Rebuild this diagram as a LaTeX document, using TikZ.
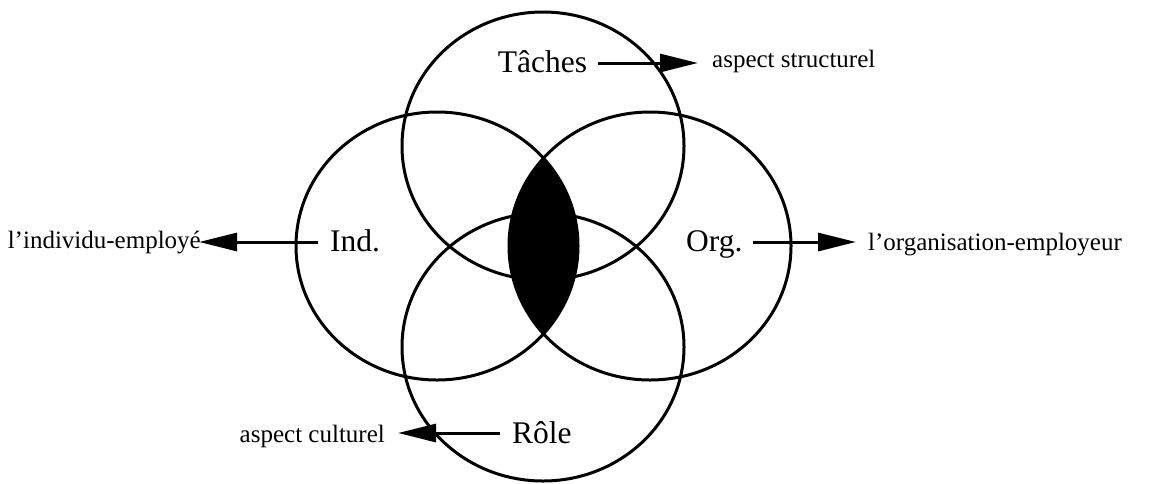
\documentclass[tikz,border=0pt]{standalone}
\usepackage{fontspec}
\setmainfont{Liberation Serif}
\usetikzlibrary{arrows.meta}
\begin{document}
\begin{tikzpicture}[x=1pt,y=-1pt,
  ring/.style={line width=3pt},
  big/.style={inner sep=0pt, font=\fontsize{31.5}{36}\selectfont},
  small/.style={inner sep=0pt, font=\fontsize{25}{30}\selectfont},
  arr/.style={line width=3pt, -{Triangle[length=38pt,width=18pt]}}]
\useasboundingbox (0,0) rectangle (1156,483);
% shaded lens (Ind. and Org. overlap)
\begin{scope}
  \clip (437,246) ellipse [x radius=141, y radius=134];
  \fill (650,246) ellipse [x radius=141, y radius=134];
\end{scope}
% circles
\draw[ring] (543,146) ellipse [x radius=141, y radius=134];
\draw[ring] (437,246) ellipse [x radius=141, y radius=134];
\draw[ring] (650,246) ellipse [x radius=141, y radius=134];
\draw[ring] (543,347) ellipse [x radius=141, y radius=134];
% labels
\node[big, anchor=base] (tach) at (542.5,72) {Tâches};
\node[small, anchor=base west] (asp1) at (712,67) {aspect structurel};
\node[big, anchor=base west] (ind) at (330,251) {Ind.};
\node[small, anchor=base east] (indiv) at (201,248) {l'individu-employé};
\node[big, anchor=base west] (org) at (686,251) {Org.};
\node[small, anchor=base west] (orga) at (868,250) {l'organisation-employeur};
\node[big, anchor=base west] (role) at (512,443) {Rôle};
\node[small, anchor=base east] (asp2) at (385,442) {aspect culturel};
% arrows
\draw[arr] ([xshift=11pt,yshift=9pt]tach.base east) -- ([xshift=-14pt,yshift=4pt]asp1.base west);
\draw[arr] ([xshift=-12pt,yshift=9pt]ind.base west) -- ([xshift=-2pt,yshift=6pt]indiv.base east);
\draw[arr] ([xshift=10pt,yshift=9pt]org.base east) -- ([xshift=-12pt,yshift=8pt]orga.base west);
\draw[arr] ([xshift=-12pt,yshift=10pt]role.base west) -- ([xshift=13pt,yshift=9pt]asp2.base east);
\end{tikzpicture}
\end{document}
